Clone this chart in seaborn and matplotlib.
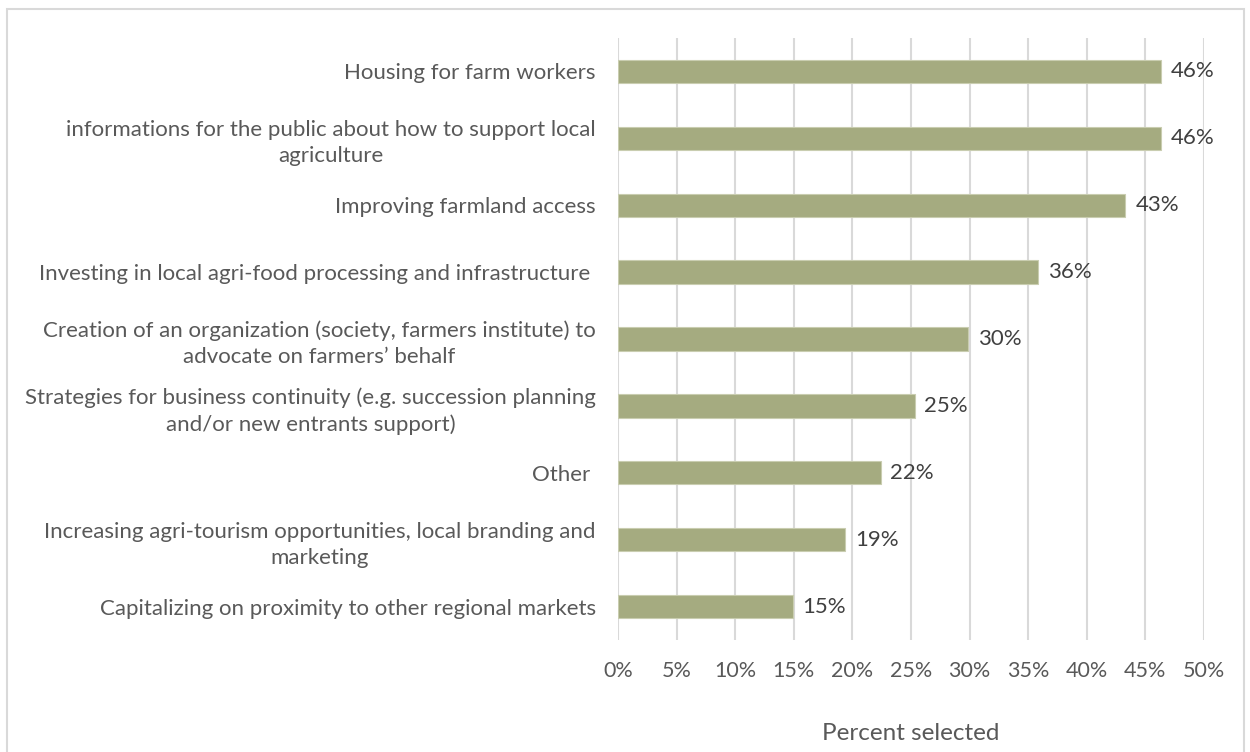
import matplotlib
matplotlib.use("Agg")
import matplotlib.pyplot as plt
import seaborn as sns
import pandas as pd
from matplotlib.patches import Rectangle

categories = [
    "Housing for farm workers",
    "informations for the public about how to support local\nagriculture",
    "Improving farmland access",
    "Investing in local agri-food processing and infrastructure ",
    "Creation of an organization (society, farmers institute) to\nadvocate on farmers\u2019 behalf",
    "Strategies for business continuity (e.g. succession planning\nand/or new entrants support)",
    "Other ",
    "Increasing agri-tourism opportunities, local branding and\nmarketing",
    "Capitalizing on proximity to other regional markets",
]
percent_selected = [46.3, 46.3, 43.3, 35.8, 29.9, 25.3, 22.4, 19.4, 14.9]
x_ticks = [0, 5, 10, 15, 20, 25, 30, 35, 40, 45, 50]

df = pd.DataFrame({"category": categories, "pct": percent_selected})

sns.set_theme(style="white")
plt.rcParams["font.family"] = ["Lato", "DejaVu Sans"]

BAR = "#A5AB80"
TEXT = "#595959"
GRID = "#D9D9D9"

fig = plt.figure(figsize=(12.5, 7.52), dpi=100)
ax = fig.add_axes([618 / 1250, 1 - 640 / 752, (1204 - 618) / 1250, (640 - 38) / 752])

sns.barplot(data=df, x="pct", y="category", orient="h", color=BAR,
            width=0.35, saturation=1, ax=ax, zorder=3)
for p in ax.patches:
    p.set_edgecolor("#C9CDB0")
    p.set_linewidth(0.8)

ax.set_xlim(0, 50)
ax.set_ylim(len(categories) - 0.5, -0.5)
ax.set_xticks(x_ticks)
ax.set_xticklabels([f"{t}%" for t in x_ticks])
ax.xaxis.grid(True, color=GRID, linewidth=1.5, zorder=0)
ax.yaxis.grid(False)
for s in ax.spines.values():
    s.set_visible(False)

ax.tick_params(axis="x", length=0, pad=15, labelsize=15.5, labelcolor=TEXT)
ax.tick_params(axis="y", length=0, pad=16, labelsize=16, labelcolor=TEXT)
for lbl in ax.get_yticklabels():
    lbl.set_multialignment("center")
    lbl.set_linespacing(1.38)

ax.set_ylabel("")
ax.set_xlabel("Percent selected", fontsize=17.5, color=TEXT, labelpad=30)

for i, v in enumerate(percent_selected):
    ax.text(v + 0.85, i, f"{round(v)}%", va="center", ha="left",
            fontsize=16, color="#404040")

# light outer frame
fig.patches.append(Rectangle((7 / 1250, -0.05), (1244 - 7) / 1250, 1.05 - 9 / 752,
                             transform=fig.transFigure, fill=False,
                             edgecolor="#D9D9D9", linewidth=1.5))

fig.savefig("out.png", dpi=100, facecolor="white")
